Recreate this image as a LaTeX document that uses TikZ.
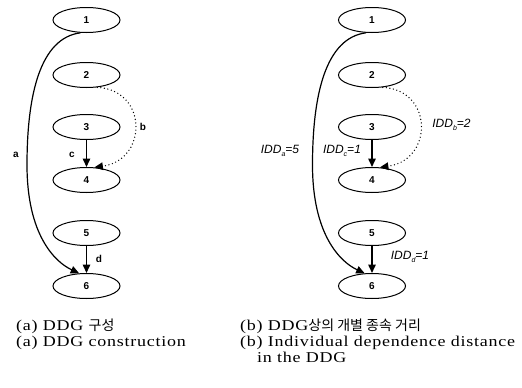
\documentclass[tikz,border=0pt]{standalone}
\usepackage{fontspec}
\setmainfont{Liberation Serif}
\setsansfont{Liberation Sans}
\newfontfamily\capfont{Liberation Serif}[FakeStretch=1.2, LetterSpace=5]
\newfontfamily\kr{Noto Sans CJK KR}
\usetikzlibrary{shapes.geometric,arrows.meta}

\tikzset{
  stmt/.style={ellipse, draw, line width=1pt, minimum width=67pt, minimum height=25pt,
    inner sep=0pt, font=\sffamily\bfseries\fontsize{10}{11}\selectfont},
  dep/.style={line width=1.5pt, -{Triangle[length=8.5pt,width=7.5pt]}},
  far/.style={line width=1.2pt, -{Triangle[length=8.5pt,width=7.5pt]}},
  dotdep/.style={line width=1.4pt, line cap=round, dash pattern=on 0pt off 3.6pt,
    -{Triangle[length=8.5pt,width=7.5pt]}},
  elabel/.style={font=\sffamily\bfseries\fontsize{10}{12}\selectfont},
  idd/.style={font=\sffamily\itshape\fontsize{12}{14}\selectfont, inner sep=0pt},
  caption/.style={anchor=base west, inner sep=0pt, font=\capfont\fontsize{15}{16}\selectfont}
}
\newcommand{\sbx}[1]{\raisebox{-0.5ex}{\fontsize{7}{8}\selectfont #1}}
\newcommand{\hangul}[1]{{\kr\fontsize{14}{16}\selectfont #1}}

\begin{document}
\begin{tikzpicture}[x=1pt, y=-1pt]
\useasboundingbox (0,0) rectangle (522,388);

% (a) dependence graph
\begin{scope}
  \node[stmt] (a1) at (86.5,20) {1};
  \node[stmt] (a2) at (86.5,75) {2};
  \node[stmt] (a3) at (86.5,127) {3};
  \node[stmt] (a4) at (86.5,180) {4};
  \node[stmt] (a5) at (86.5,233) {5};
  \node[stmt] (a6) at (86.5,286) {6};
  \draw[far] (a1.245) .. controls (40,38) and (27,95) .. (27,165)
             .. controls (27,235) and (55,262) .. (a6.120);
  \draw[dotdep] (a2.311) .. controls (148,90) and (148,160) .. (a4.58);
  \draw[dep] (a3) -- (a4);
  \draw[dep] (a5) -- (a6);
  \node[elabel] (la) at (16,155) {a};
  \node[elabel] (lb) at (143,127) {b};
  \node[elabel] (lc) at (72,155) {c};
  \node[elabel] (ld) at (99,259) {d};
\end{scope}

% (b) the same graph with distances
\begin{scope}[xshift=285.5pt]
  \node[stmt] (b1) at (86.5,20) {1};
  \node[stmt] (b2) at (86.5,75) {2};
  \node[stmt] (b3) at (86.5,127) {3};
  \node[stmt] (b4) at (86.5,180) {4};
  \node[stmt] (b5) at (86.5,233) {5};
  \node[stmt] (b6) at (86.5,286) {6};
  \draw[far] (b1.245) .. controls (40,38) and (27,95) .. (27,165)
             .. controls (27,235) and (55,262) .. (b6.120);
  \draw[dotdep] (b2.311) .. controls (148,90) and (148,160) .. (b4.58);
  \draw[dep] (b3) -- (b4);
  \draw[dep] (b5) -- (b6);
  \node[idd] (ia) at (-5.5,151) {IDD\sbx{a}=5};
  \node[idd] (ic) at (56.5,151) {IDD\sbx{c}=1};
  \node[idd] (ib) at (166,125) {IDD\sbx{b}=2};
  \node[idd] (id) at (124.5,257) {IDD\sbx{d}=1};
\end{scope}

% captions
\node[caption] (ca1) at (16,330) {(a) DDG \hangul{구성}};
\node[caption] (ca2) at (16,346) {(a) DDG construction};
\node[caption] (cb1) at (240,330) {(b) DDG\hangul{상의 개별 종속 거리}};
\node[caption] (cb2) at (240,346) {(b) Individual dependence distance};
\node[caption] (cb3) at (257,362) {in the DDG};
\end{tikzpicture}
\end{document}
